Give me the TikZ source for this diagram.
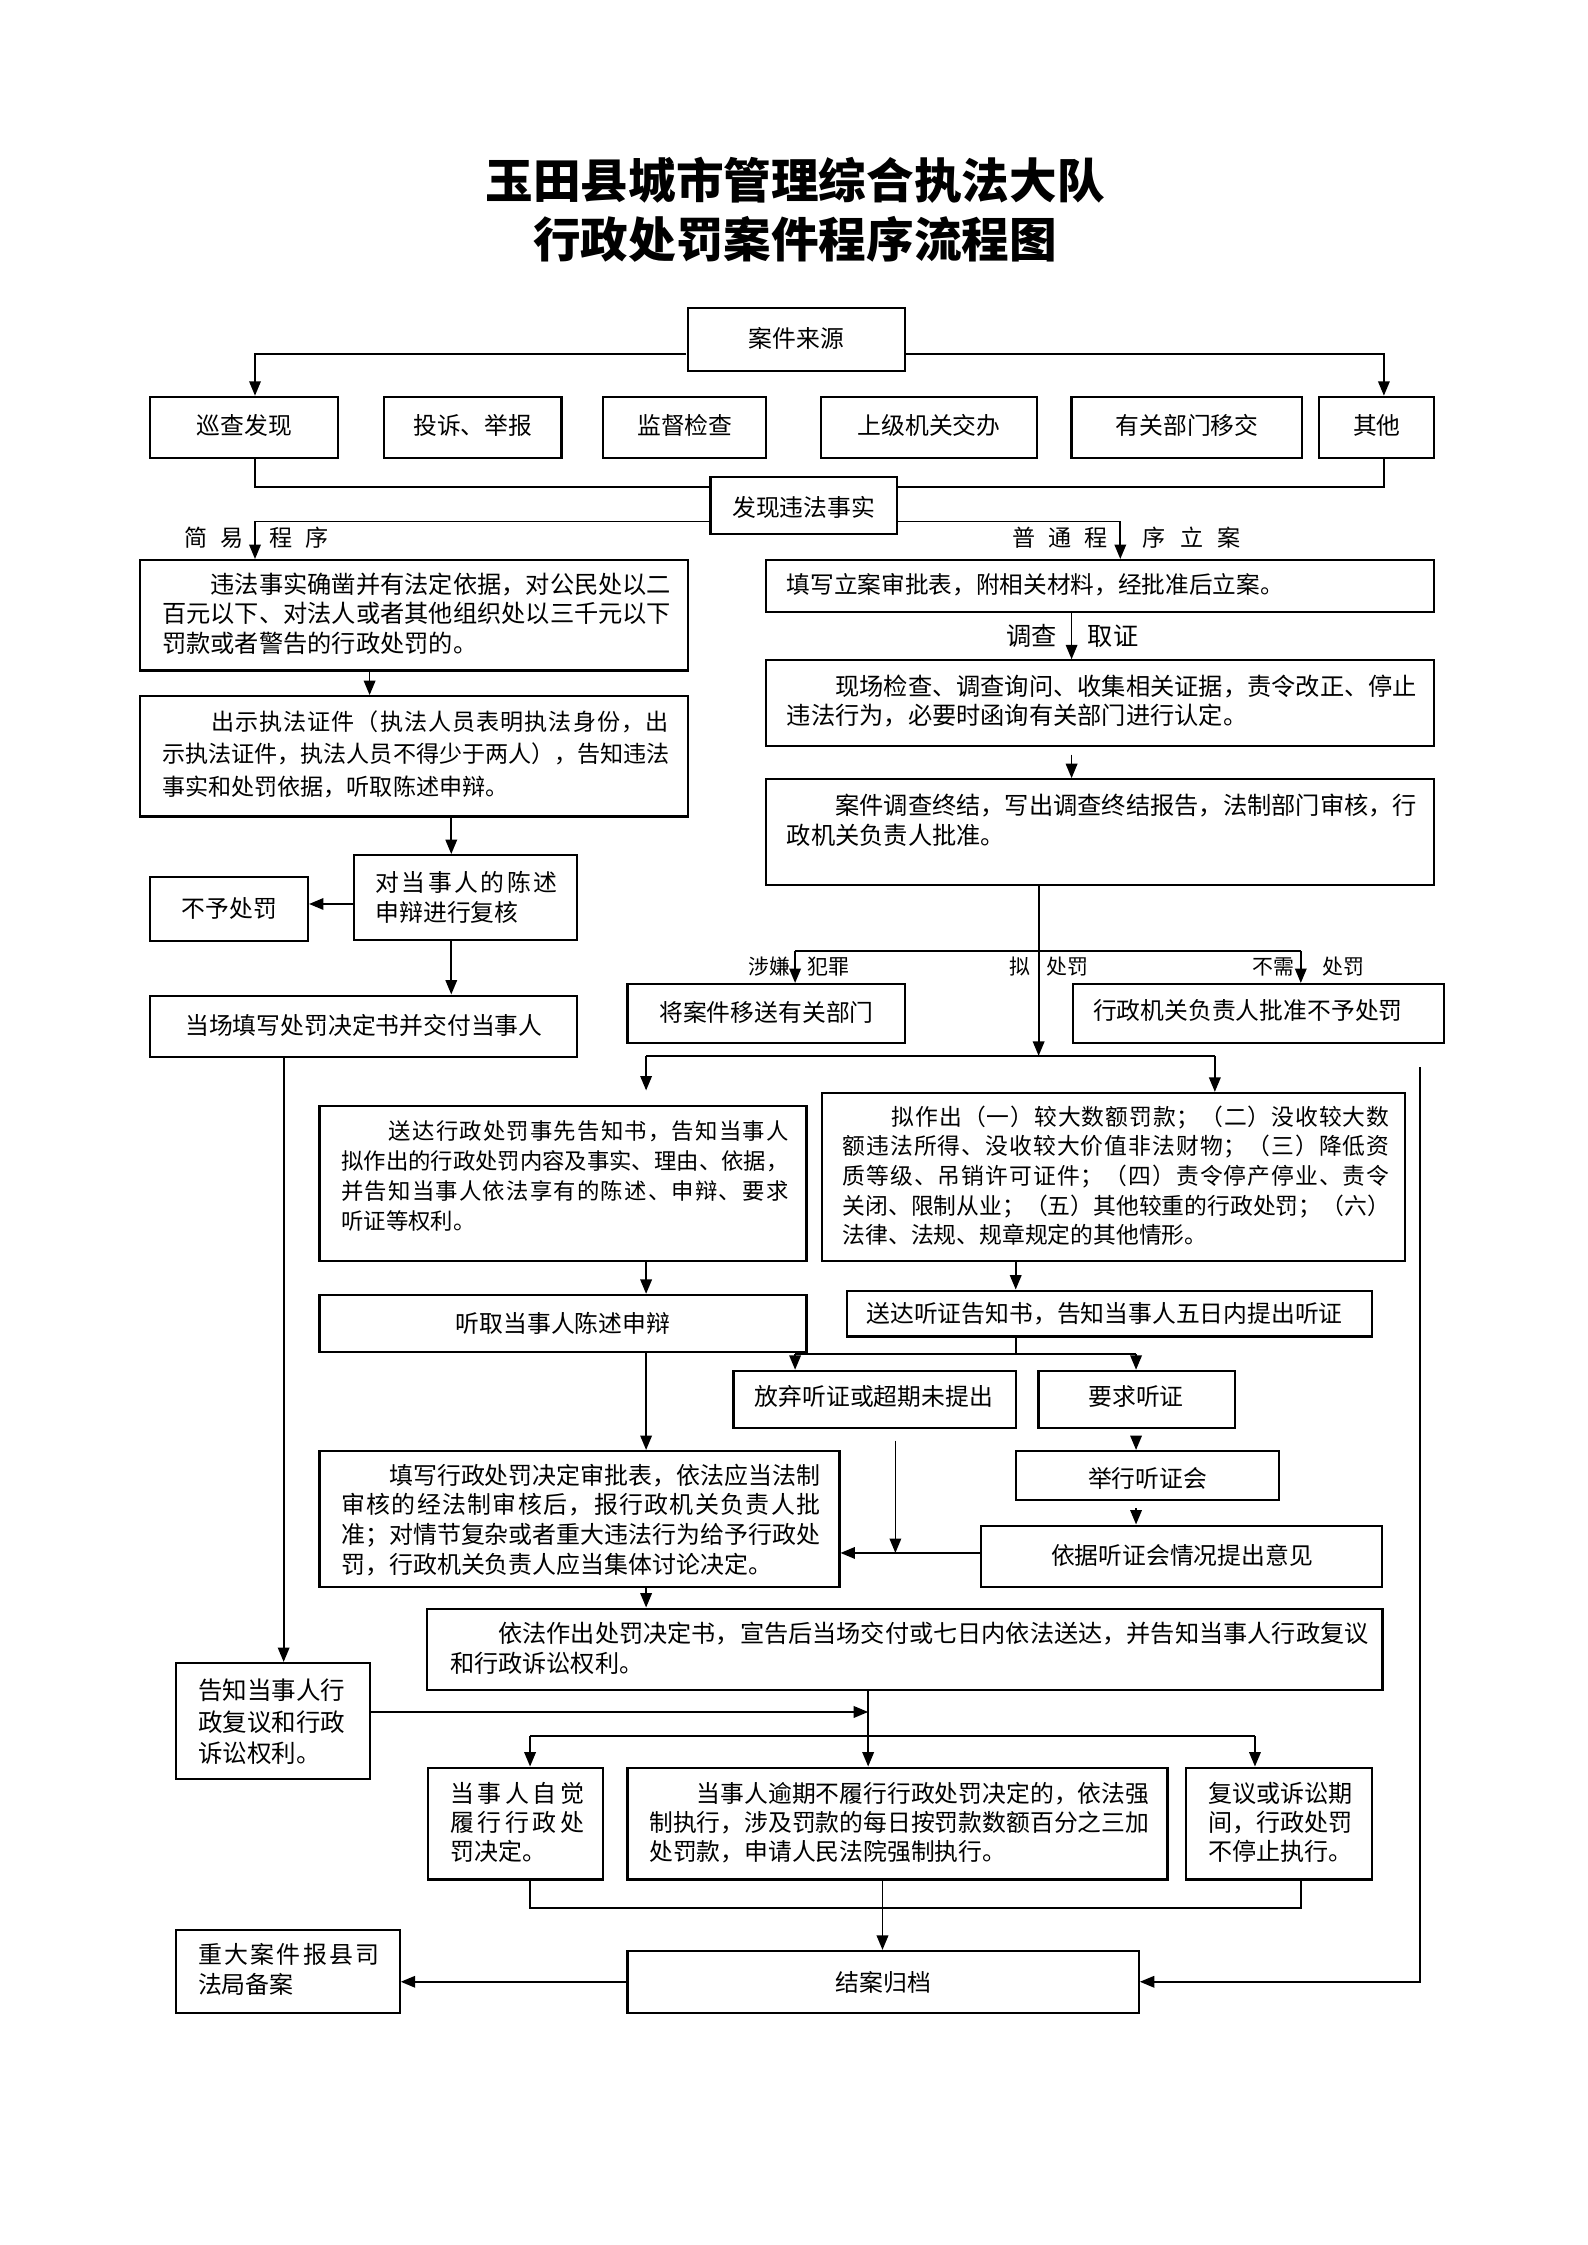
\documentclass[tikz,border=0pt]{standalone}
\usepackage{fontspec}
\setmainfont{Noto Sans CJK SC}
\usetikzlibrary{arrows.meta,calc,fit}
\newcommand{\fz}[2]{\fontsize{#1}{#2}\selectfont}
\makeatletter
\def\spreadloop#1{#1\futurelet\sp@next\sp@check}
\def\sp@check{\ifx\sp@next\relax\expandafter\@gobble\else\hfill\expandafter\spreadloop\fi}
\makeatother
\newcommand{\spread}[2]{\makebox[#1][s]{\spreadloop#2\relax}}
\newcommand{\flowbox}[5]{%
  \coordinate (#1-a) at (#2,#3);
  \coordinate (#1-b) at (#4,#5);
  \node[box, fit=(#1-a)(#1-b)] (#1) {};}
\tikzset{
  box/.style={draw, line width=1.5pt, inner sep=0pt},
  conn/.style={line width=1.2pt},
  arr/.style={conn, -{Triangle[length=10pt,width=8pt]}},
  T/.style={inner sep=0pt, anchor=base, font=\fz{16.5}{20}},
  P/.style={inner sep=0pt, anchor=base west, align=left},
  L/.style={inner sep=0pt, anchor=base, font=\fz{16}{20}},
}
\begin{document}
\begin{tikzpicture}[x=1pt,y=-1pt]
\fill[white] (0,0) rectangle (1100,1556);
\useasboundingbox (0,0) rectangle (1100,1556);
\begin{scope}[scale=0.993]
% title
\node[inner sep=0pt, anchor=base, font=\fz{33}{41}\bfseries] (title1) at (555,138.5) {玉田县城市管理综合执法大队};
\node[inner sep=0pt, anchor=base, font=\fz{33}{41}\bfseries] (title2) at (555,179.5) {行政处罚案件程序流程图};

% boxes
\flowbox{src}{480}{215}{632}{259}
\flowbox{xc}{105}{277}{236}{320}
\flowbox{ts}{268}{277}{392}{320}
\flowbox{jd}{421}{277}{535}{320}
\flowbox{sj}{573}{277}{724}{320}
\flowbox{yg}{748}{277}{909}{320}
\flowbox{qt}{921}{277}{1001}{320}
\flowbox{fx}{496}{333}{626}{373}
\flowbox{A}{98}{391}{480}{468}
\flowbox{B}{98}{486}{480}{570}
\flowbox{C}{247}{597}{403}{656}
\flowbox{by}{105}{612}{215}{657}
\flowbox{dc}{105}{695}{403}{738}
\flowbox{D}{535}{391}{1001}{427}
\flowbox{E}{535}{461}{1001}{521}
\flowbox{F}{535}{544}{1001}{618}
\flowbox{G}{438}{687}{632}{728}
\flowbox{H}{749}{687}{1008}{728}
\flowbox{I}{223}{772}{563}{880}
\flowbox{J}{574}{763}{981}{880}
\flowbox{K}{223}{904}{563}{944}
\flowbox{Lb}{591}{901}{958}{933}
\flowbox{M}{512}{957}{709}{997}
\flowbox{N}{725}{957}{862}{997}
\flowbox{O}{709}{1013}{893}{1047}
\flowbox{Pb}{685}{1065}{965}{1108}
\flowbox{Q}{223}{1013}{586}{1108}
\flowbox{R}{298}{1123}{965}{1180}
\flowbox{V}{123}{1161}{258}{1242}
\flowbox{S}{299}{1234}{421}{1312}
\flowbox{Tb}{438}{1234}{815}{1312}
\flowbox{U}{828}{1234}{958}{1312}
\flowbox{W}{438}{1362}{795}{1405}
\flowbox{X}{123}{1347}{279}{1405}

% texts (multi-line nodes: base = last line)
\node[T] (src-t) at (556,242.3) {案件来源};
\node[T] (xc-t) at (170.5,303.3) {巡查发现};
\node[T] (ts-t) at (330,303.3) {投诉、举报};
\node[T] (jd-t) at (478,303.3) {监督检查};
\node[T] (sj-t) at (648.5,303.3) {上级机关交办};
\node[T] (yg-t) at (828.5,303.3) {有关部门移交};
\node[T] (qt-t) at (961,303.3) {其他};
\node[T] (fx-t) at (561,360.3) {发现违法事实};

\node[P, font=\fz{16.8}{20.5}] (A-t) at (113,455.4) {\hspace*{2em}违法事实确凿并有法定依据，对公民处以二\\百元以下、对法人或者其他组织处以三千元以下\\罚款或者警告的行政处罚的。};
\node[P, font=\fz{16}{22.5}] (B-t) at (113,555.1) {\hspace*{34pt}\spread{317pt}{出示执法证件（执法人员表明执法身份，出}\\示执法证件，执法人员不得少于两人），告知违法\\事实和处罚依据，听取陈述申辩。};
\node[P, font=\fz{16.5}{21}] (C-t) at (262,643.3) {\spread{126pt}{对当事人的陈述}\\申辩进行复核};
\node[T] (by-t) at (160,640.3) {不予处罚};
\node[T] (dc-t) at (254,722.3) {当场填写处罚决定书并交付当事人};

\node[P, font=\fz{16.4}{20}] (D-t) at (549,414.2) {填写立案审批表，附相关材料，经批准后立案。};
\node[P, font=\fz{16.8}{20}] (E-t) at (549,505.4) {\hspace*{2em}现场检查、调查询问、收集相关证据，责令改正、停止\\违法行为，必要时函询有关部门进行认定。};
\node[P, font=\fz{16.8}{21}] (F-t) at (549,589.4) {\hspace*{2em}案件调查终结，写出调查终结报告，法制部门审核，行\\政机关负责人批准。};
\node[T] (G-t) at (535,713.3) {将案件移送有关部门};
\node[T] (H-t) at (871,711.3) {行政机关负责人批准不予处罚};

\node[P, font=\fz{15.5}{20.7}] (I-t) at (238,858) {\hspace*{33pt}\spread{277pt}{送达行政处罚事先告知书，告知当事人}\\拟作出的行政处罚内容及事实、理由、依据，\\\spread{310pt}{并告知当事人依法享有的陈述、申辩、要求}\\听证等权利。};
\node[P, font=\fz{15.8}{20.5}] (J-t) at (588,868) {\hspace*{34pt}\spread{345pt}{拟作出（一）较大数额罚款；（二）没收较大数}\\\spread{379pt}{额违法所得、没收较大价值非法财物；（三）降低资}\\\spread{379pt}{质等级、吊销许可证件；（四）责令停产停业、责令}\\关闭、限制从业；（五）其他较重的行政处罚；（六）\\法律、法规、规章规定的其他情形。};
\node[T] (K-t) at (393,930.3) {听取当事人陈述申辩};
\node[T] (Lb-t) at (771,923.3) {送达听证告知书，告知当事人五日内提出听证};
\node[T] (M-t) at (610,981.3) {放弃听证或超期未提出};
\node[T] (N-t) at (793,981.3) {要求听证};
\node[T] (O-t) at (801,1038.3) {举行听证会};
\node[T] (Pb-t) at (825,1092.3) {依据听证会情况提出意见};
\node[P, font=\fz{16.6}{20.7}] (Q-t) at (238,1098.4) {\hspace*{2em}填写行政处罚决定审批表，依法应当法制\\\spread{332pt}{审核的经法制审核后，报行政机关负责人批}\\准；对情节复杂或者重大违法行为给予行政处\\罚，行政机关负责人应当集体讨论决定。};
\node[P, font=\fz{16.75}{21}] (R-t) at (314,1167.4) {\hspace*{2em}依法作出处罚决定书，宣告后当场交付或七日内依法送达，并告知当事人行政复议\\和行政诉讼权利。};
\node[P, font=\fz{17}{22}] (V-t) at (138,1230.5) {告知当事人行\\政复议和行政\\诉讼权利。};
\node[P, font=\fz{16.6}{20}] (S-t) at (314,1298.3) {\spread{93pt}{当事人自觉}\\\spread{93pt}{履行行政处}\\罚决定。};
\node[P, font=\fz{16.5}{20}] (Tb-t) at (453,1298.3) {\hspace*{2em}当事人逾期不履行行政处罚决定的，依法强\\制执行，涉及罚款的每日按罚款数额百分之三加\\处罚款，申请人民法院强制执行。};
\node[P, font=\fz{16.7}{20}] (U-t) at (843,1298.3) {复议或诉讼期\\间，行政处罚\\不停止执行。};
\node[T] (W-t) at (616.5,1390.3) {结案归档};
\node[P, font=\fz{16.6}{21}] (X-t) at (138,1391.3) {\spread{126pt}{重大案件报县司}\\法局备案};

% labels
\node[L] (l1) at (149.5,381.1) {简\hspace{9pt}易};
\node[L] (l2) at (208.5,381.1) {程\hspace{9pt}序};
\node[L] (l3) at (740,381.1) {普\hspace{9pt}通\hspace{9pt}程};
\node[L] (l4) at (832,381.1) {序\hspace{10pt}立\hspace{10pt}案};
\node[L, font=\fz{17.5}{20}] (l5) at (720,450.6) {调查};
\node[L, font=\fz{17.5}{20}] (l6) at (777,450.6) {取证};
\node[L, font=\fz{14.5}{18}] (l7) at (537,680.5) {涉嫌};
\node[L, font=\fz{14.5}{18}] (l8) at (578,680.5) {犯罪};
\node[L, font=\fz{14.5}{18}] (l9) at (712,680.5) {拟};
\node[L, font=\fz{14.5}{18}] (l10) at (745,680.5) {处罚};
\node[L, font=\fz{14.5}{18}] (l11) at (889,680.5) {不需};
\node[L, font=\fz{14.5}{18}] (l12) at (938,680.5) {处罚};

% routing coordinates
\coordinate (c1) at (178,247);
\coordinate (c2) at (966,247);
\coordinate (c3) at (178,340);
\coordinate (c4) at (966,340);
\coordinate (c5) at (178,364);
\coordinate (c6) at (782,364);
\coordinate (c7) at (258,0);
\coordinate (c8) at (315,0);
\coordinate (c9) at (0,631);
\coordinate (c10) at (198,0);
\coordinate (c11) at (748,0);
\coordinate (c12) at (725,664);
\coordinate (c13) at (555,664);
\coordinate (c14) at (908,664);
\coordinate (c15) at (725,737);
\coordinate (c16) at (451,737);
\coordinate (c17) at (848,737);
\coordinate (c18) at (991,745);
\coordinate (c19) at (709,0);
\coordinate (c20) at (709,945);
\coordinate (c21) at (555,945);
\coordinate (c22) at (793,945);
\coordinate (c23) at (0,1084);
\coordinate (c24) at (625,1084);
\coordinate (c25) at (606,1212);
\coordinate (c26) at (370,1212);
\coordinate (c27) at (876,1212);
\coordinate (c28) at (606,1195);
\coordinate (c29) at (370,1332);
\coordinate (c30) at (908,1332);
\coordinate (c31) at (616,0);

% connectors
\draw[arr] (src.west |- c1) -| (c1 |- xc.north);
\draw[arr] (src.east |- c2) -| (c2 |- qt.north);
\draw[conn] (c3 |- xc.south) |- (fx.west |- c3);
\draw[conn] (c4 |- qt.south) |- (fx.east |- c4);
\draw[arr] (fx.west |- c5) -| (c5 |- A.north);
\draw[arr] (fx.east |- c6) -| (c6 |- D.north);
\draw[arr] (c7 |- A.south) -- (c7 |- B.north);
\draw[arr] (c8 |- B.south) -- (c8 |- C.north);
\draw[arr] (C.west |- c9) -- (by.east |- c9);
\draw[arr] (c8 |- C.south) -- (c8 |- dc.north);
\draw[arr] (c10 |- dc.south) -- (c10 |- V.north);
\draw[arr] (c11 |- D.south) -- (c11 |- E.north);
\draw[arr] ($(c11 |- E.south)+(0,5)$) -- (c11 |- F.north);
\draw[conn] (c12 |- F.south) -- (c12);
\draw[conn] (c13) -- (c14);
\draw[arr] (c13) -- (c13 |- G.north);
\draw[arr] (c14) -- (c14 |- H.north);
\draw[arr] (c12) -- (c15);
\draw[conn] (c16) -- (c17);
\draw[arr] (c16) -- ($(c16 |- I.north)+(0,-10)$);
\draw[arr] (c17) -- (c17 |- J.north);
\draw[arr] (c18) |- (W.east);
\draw[arr] (c16 |- I.south) -- (c16 |- K.north);
\draw[arr] (c19 |- J.south) -- (c19 |- Lb.north);
\draw[conn] (c19 |- Lb.south) -- (c20);
\draw[conn] (c21) -- (c22);
\draw[arr] (c21) -- (c21 |- M.north);
\draw[arr] (c22) -- (c22 |- N.north);
\draw[arr] ($(c22 |- N.south)+(0,6)$) -- (c22 |- O.north);
\draw[arr] ($(c22 |- O.south)+(0,5)$) -- (c22 |- Pb.north);
\draw[arr] (Pb.west |- c23) -- (Q.east |- c23);
\draw[arr] ($(c24 |- M.south)+(0,8)$) -- (c24);
\draw[arr] (c16 |- K.south) -- (c16 |- Q.north);
\draw[arr] (c16 |- Q.south) -- (c16 |- R.north);
\draw[conn] (c25 |- R.south) -- (c25);
\draw[arr] (V.east |- c28) -- (c28);
\draw[conn] (c26) -- (c27);
\draw[arr] (c26) -- (c26 |- S.north);
\draw[arr] (c25) -- (c25 |- Tb.north);
\draw[arr] (c27) -- (c27 |- U.north);
\draw[conn] (c29 |- S.south) -- (c29) -- (c30) -- (c30 |- U.south);
\draw[arr] (c31 |- Tb.south) -- (c31 |- W.north);
\draw[arr] (W.west) -- (X.east |- W.west);
\end{scope}
\end{tikzpicture}
\end{document}
